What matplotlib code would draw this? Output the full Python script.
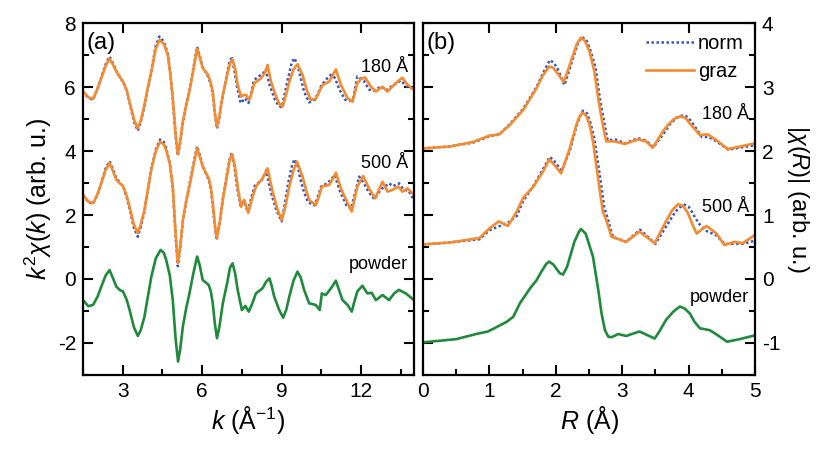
import numpy as np
import matplotlib
matplotlib.use("Agg")
import matplotlib.pyplot as plt
from matplotlib.ticker import MultipleLocator

plt.rcParams["font.family"] = ["Liberation Sans", "DejaVu Sans"]
plt.rcParams["mathtext.fontset"] = "custom"
plt.rcParams["mathtext.rm"] = "Liberation Sans"
plt.rcParams["mathtext.it"] = "Liberation Sans:italic"
plt.rcParams["axes.unicode_minus"] = False

# (k, k^2 chi) pairs
graz180 = [(1.5, 5.86), (1.7, 5.68), (1.88, 5.63), (2.05, 5.95), (2.19, 6.27), (2.35, 6.65), (2.5, 6.88),
           (2.62, 6.72), (2.76, 6.48), (2.9, 6.3), (3.01, 6.17), (3.15, 5.9), (3.26, 5.54), (3.42, 5.0),
           (3.57, 4.71), (3.68, 4.95), (3.82, 5.44), (3.95, 6.0), (4.08, 6.48), (4.25, 7.2), (4.39, 7.47),
           (4.55, 7.35), (4.7, 7.0), (4.8, 6.4), (4.89, 5.65), (5.0, 4.5), (5.08, 3.9), (5.17, 4.3),
           (5.27, 4.92), (5.4, 5.45), (5.52, 5.86), (5.66, 6.5), (5.81, 7.19), (5.9, 6.95), (6.02, 6.59),
           (6.21, 6.4), (6.3, 6.2), (6.4, 5.86), (6.48, 5.2), (6.56, 4.76), (6.65, 5.1), (6.78, 5.75),
           (6.95, 6.4), (7.08, 6.8), (7.15, 6.85), (7.25, 6.55), (7.34, 6.07), (7.47, 5.7), (7.56, 5.75),
           (7.66, 5.75), (7.78, 5.6), (7.88, 5.85), (7.97, 6.12), (8.22, 6.27), (8.38, 6.45), (8.47, 6.69),
           (8.6, 6.17), (8.79, 5.7), (8.93, 5.45), (9.04, 5.39), (9.15, 5.7), (9.29, 6.17), (9.45, 6.55),
           (9.6, 6.71), (9.79, 6.38), (9.95, 5.9), (10.1, 5.6), (10.29, 5.63), (10.42, 5.85), (10.55, 6.07),
           (10.8, 6.17), (10.95, 6.4), (11.05, 6.55), (11.24, 6.07), (11.49, 5.65), (11.68, 5.54),
           (11.86, 6.12), (12.0, 6.25), (12.15, 6.3), (12.37, 6.01), (12.56, 5.86), (12.81, 6.01),
           (13.0, 5.86), (13.25, 6.07), (13.45, 6.22), (13.56, 6.29), (13.75, 6.07), (14.0, 5.91)]
norm180 = [(1.5, 5.86), (1.7, 5.66), (1.88, 5.6), (2.05, 5.95), (2.19, 6.3), (2.35, 6.7), (2.5, 6.95),
           (2.62, 6.76), (2.76, 6.5), (2.9, 6.3), (3.01, 6.17), (3.15, 5.88), (3.26, 5.5), (3.42, 4.93),
           (3.57, 4.63), (3.68, 4.9), (3.82, 5.4), (3.95, 5.98), (4.08, 6.5), (4.25, 7.3), (4.39, 7.58),
           (4.55, 7.42), (4.7, 7.05), (4.8, 6.4), (4.89, 5.6), (5.0, 4.45), (5.08, 3.85), (5.17, 4.25),
           (5.27, 4.9), (5.4, 5.45), (5.52, 5.9), (5.66, 6.55), (5.81, 7.26), (5.9, 7.0), (6.02, 6.62),
           (6.21, 6.35), (6.3, 6.15), (6.4, 5.8), (6.48, 5.15), (6.56, 4.7), (6.65, 5.05), (6.78, 5.75),
           (6.95, 6.45), (7.05, 6.85), (7.13, 6.9), (7.22, 6.5), (7.32, 6.0), (7.45, 5.5), (7.55, 5.58),
           (7.62, 5.65), (7.75, 5.5), (7.85, 5.8), (7.95, 6.2), (8.12, 6.33), (8.28, 6.4), (8.4, 6.55),
           (8.55, 6.05), (8.75, 5.6), (8.88, 5.42), (9.0, 5.36), (9.12, 5.8), (9.25, 6.3), (9.38, 6.75),
           (9.48, 6.9), (9.6, 6.7), (9.7, 6.35), (9.85, 5.85), (10.04, 5.52), (10.25, 5.6), (10.38, 5.8),
           (10.5, 6.05), (10.7, 6.25), (10.86, 6.38), (11.0, 6.3), (11.2, 5.9), (11.4, 5.6), (11.55, 5.57),
           (11.7, 5.62), (11.86, 6.33), (12.1, 6.2), (12.3, 5.92), (12.5, 5.88), (12.75, 6.02), (12.95, 5.9),
           (13.2, 6.05), (13.5, 6.2), (13.75, 6.0), (14.0, 5.95)]
graz500 = [(1.5, 2.63), (1.7, 2.42), (1.88, 2.37), (2.05, 2.65), (2.19, 2.99), (2.35, 3.4), (2.5, 3.62),
           (2.62, 3.4), (2.76, 3.1), (2.9, 2.98), (3.01, 2.91), (3.15, 2.6), (3.26, 2.26), (3.42, 1.7),
           (3.57, 1.43), (3.68, 1.7), (3.82, 2.16), (3.95, 2.8), (4.08, 3.41), (4.25, 4.0), (4.41, 4.29),
           (4.55, 4.2), (4.64, 4.03), (4.78, 3.6), (4.89, 2.89), (5.0, 1.4), (5.08, 0.49), (5.17, 1.0),
           (5.27, 1.84), (5.4, 2.45), (5.52, 2.89), (5.66, 3.5), (5.81, 4.08), (5.9, 3.85), (6.02, 3.51),
           (6.15, 3.3), (6.25, 3.15), (6.33, 2.85), (6.4, 2.37), (6.48, 1.7), (6.55, 1.27), (6.65, 1.7),
           (6.78, 2.47), (6.95, 3.3), (7.05, 3.75), (7.13, 3.9), (7.24, 3.5), (7.34, 2.89), (7.47, 2.26),
           (7.59, 2.47), (7.74, 2.07), (7.88, 2.5), (8.03, 2.89), (8.28, 3.15), (8.38, 3.3), (8.47, 3.46),
           (8.56, 3.1), (8.66, 2.73), (8.85, 2.16), (9.01, 1.84), (9.15, 2.3), (9.29, 2.89), (9.45, 3.4),
           (9.58, 3.67), (9.79, 3.2), (9.92, 2.8), (10.04, 2.47), (10.29, 2.31), (10.4, 2.55), (10.52, 2.89),
           (10.8, 2.94), (10.95, 3.15), (11.05, 3.32), (11.24, 2.83), (11.49, 2.37), (11.65, 2.11),
           (11.86, 2.89), (12.08, 3.22), (12.3, 2.83), (12.53, 2.52), (12.81, 3.04), (13.0, 2.73),
           (13.18, 2.78), (13.41, 2.89), (13.56, 2.73), (13.75, 2.83), (14.0, 2.63)]
norm500 = [(1.5, 2.63), (1.7, 2.4), (1.88, 2.35), (2.05, 2.65), (2.19, 3.0), (2.35, 3.45), (2.5, 3.68),
           (2.62, 3.45), (2.76, 3.15), (2.9, 3.0), (3.01, 2.9), (3.15, 2.55), (3.26, 2.2), (3.42, 1.6),
           (3.57, 1.32), (3.68, 1.62), (3.82, 2.1), (3.95, 2.8), (4.08, 3.45), (4.25, 4.05), (4.41, 4.36),
           (4.55, 4.28), (4.64, 4.1), (4.78, 3.6), (4.89, 2.85), (5.0, 1.3), (5.08, 0.4), (5.17, 0.95),
           (5.27, 1.8), (5.4, 2.45), (5.52, 2.95), (5.66, 3.55), (5.81, 4.15), (5.9, 3.9), (6.02, 3.55),
           (6.15, 3.28), (6.25, 3.1), (6.33, 2.8), (6.4, 2.3), (6.48, 1.65), (6.55, 1.22), (6.65, 1.7),
           (6.78, 2.5), (6.95, 3.35), (7.05, 3.8), (7.12, 3.95), (7.22, 3.5), (7.32, 2.85), (7.45, 2.3),
           (7.58, 2.45), (7.72, 2.1), (7.86, 2.55), (8.0, 2.95), (8.22, 3.05), (8.32, 3.2), (8.42, 3.4),
           (8.5, 3.05), (8.6, 2.7), (8.8, 2.15), (9.0, 1.8), (9.12, 2.35), (9.25, 3.0), (9.38, 3.5),
           (9.48, 3.74), (9.6, 3.55), (9.7, 3.15), (9.85, 2.7), (10.0, 2.4), (10.25, 2.3), (10.38, 2.6),
           (10.5, 2.9), (10.75, 3.0), (10.9, 3.15), (11.0, 3.25), (11.2, 2.75), (11.45, 2.3), (11.62, 2.2),
           (11.78, 2.7), (11.93, 3.2), (12.1, 3.0), (12.3, 2.7), (12.5, 2.5), (12.75, 2.8), (13.06, 2.99),
           (13.2, 2.9), (13.43, 2.99), (13.6, 2.8), (13.8, 2.75), (14.0, 2.47)]
powder_k = [(1.5, -0.66), (1.7, -0.85), (1.88, -0.81), (2.05, -0.55), (2.19, -0.24), (2.35, 0.1), (2.5, 0.28),
            (2.62, 0.05), (2.76, -0.24), (2.9, -0.35), (3.01, -0.39), (3.15, -0.65), (3.26, -0.97),
            (3.42, -1.5), (3.57, -1.78), (3.68, -1.6), (3.82, -1.18), (3.95, -0.55), (4.08, 0.07),
            (4.25, 0.65), (4.43, 0.91), (4.55, 0.82), (4.64, 0.6), (4.78, 0.1), (4.89, -0.66), (5.0, -1.9),
            (5.09, -2.58), (5.17, -2.2), (5.27, -1.49), (5.4, -0.9), (5.52, -0.45), (5.66, 0.15), (5.81, 0.7),
            (5.9, 0.45), (6.02, -0.03), (6.15, -0.12), (6.25, -0.19), (6.33, -0.4), (6.4, -0.76), (6.48, -1.4),
            (6.56, -1.85), (6.65, -1.5), (6.78, -0.76), (6.95, -0.1), (7.05, 0.35), (7.15, 0.49), (7.25, 0.15),
            (7.34, -0.34), (7.5, -0.97), (7.63, -0.84), (7.76, -1.02), (7.9, -0.75), (8.03, -0.45),
            (8.28, -0.29), (8.42, -0.08), (8.54, 0.02), (8.62, -0.2), (8.72, -0.55), (8.91, -0.97),
            (9.06, -1.21), (9.18, -0.95), (9.29, -0.55), (9.45, -0.05), (9.6, 0.23), (9.72, 0.05),
            (9.85, -0.34), (10.04, -0.76), (10.29, -0.81), (10.44, -0.97), (10.52, -0.45), (10.67, -0.5),
            (10.9, -0.25), (11.05, -0.05), (11.15, -0.3), (11.3, -0.66), (11.49, -0.81), (11.65, -1.02),
            (11.75, -0.7), (11.86, -0.39), (12.05, -0.21), (12.24, -0.45), (12.4, -0.43), (12.56, -0.66),
            (12.81, -0.5), (13.06, -0.66), (13.25, -0.45), (13.43, -0.34), (13.69, -0.45), (14.0, -0.66)]

# (R, |chi(R)|) pairs
graz180_R = [(0, 2.04), (0.4, 2.07), (0.75, 2.14), (1.0, 2.24), (1.15, 2.26), (1.31, 2.41), (1.51, 2.64),
             (1.71, 2.98), (1.8, 3.17), (1.9, 3.32), (1.96, 3.3), (2.03, 3.21), (2.12, 3.08), (2.19, 3.28),
             (2.26, 3.5), (2.32, 3.68), (2.38, 3.77), (2.44, 3.72), (2.51, 3.55), (2.58, 3.25), (2.64, 2.82),
             (2.7, 2.45), (2.76, 2.15), (2.89, 2.15), (3.04, 2.11), (3.24, 2.18), (3.36, 2.15), (3.46, 2.05),
             (3.61, 2.3), (3.7, 2.42), (3.78, 2.5), (3.87, 2.54), (3.95, 2.52), (4.02, 2.43), (4.17, 2.25),
             (4.29, 2.26), (4.42, 2.17), (4.59, 2.03), (4.82, 2.08), (5.0, 2.12)]
norm180_R = [(0, 2.04), (0.4, 2.07), (0.75, 2.13), (1.0, 2.23), (1.15, 2.26), (1.31, 2.42), (1.51, 2.66),
             (1.71, 3.0), (1.81, 3.22), (1.91, 3.42), (1.97, 3.38), (2.03, 3.28), (2.13, 3.03), (2.2, 3.25),
             (2.26, 3.45), (2.33, 3.67), (2.39, 3.78), (2.46, 3.74), (2.52, 3.58), (2.6, 3.3), (2.66, 2.85),
             (2.72, 2.5), (2.78, 2.17), (2.9, 2.18), (3.04, 2.12), (3.24, 2.2), (3.36, 2.16), (3.47, 2.06),
             (3.63, 2.28), (3.72, 2.42), (3.82, 2.52), (3.92, 2.56), (3.99, 2.53), (4.05, 2.45), (4.2, 2.22),
             (4.3, 2.22), (4.42, 2.15), (4.6, 2.02), (4.82, 2.06), (5.0, 2.09)]
graz500_R = [(0, 0.54), (0.4, 0.57), (0.85, 0.64), (1.0, 0.79), (1.14, 0.9), (1.28, 0.83), (1.41, 1.05),
             (1.51, 1.27), (1.66, 1.44), (1.81, 1.68), (1.9, 1.87), (1.98, 1.78), (2.08, 1.65), (2.21, 2.04),
             (2.31, 2.41), (2.35, 2.52), (2.4, 2.6), (2.46, 2.55), (2.51, 2.41), (2.56, 2.15), (2.61, 1.78),
             (2.66, 1.4), (2.71, 1.05), (2.76, 0.92), (2.84, 0.66), (3.06, 0.58), (3.26, 0.74), (3.49, 0.56),
             (3.66, 0.9), (3.75, 1.07), (3.84, 1.17), (3.92, 1.14), (3.99, 1.03), (4.06, 0.85), (4.12, 0.71),
             (4.27, 0.83), (4.42, 0.71), (4.54, 0.53), (4.69, 0.58), (4.82, 0.56), (5.0, 0.69)]
norm500_R = [(0, 0.54), (0.4, 0.57), (0.85, 0.62), (1.0, 0.76), (1.14, 0.82), (1.28, 0.88), (1.41, 0.98),
             (1.51, 1.22), (1.66, 1.45), (1.81, 1.72), (1.91, 1.91), (1.98, 1.84), (2.09, 1.69), (2.21, 2.0),
             (2.31, 2.38), (2.36, 2.53), (2.41, 2.63), (2.47, 2.59), (2.52, 2.45), (2.58, 2.2), (2.63, 1.85),
             (2.68, 1.5), (2.73, 1.12), (2.78, 0.95), (2.86, 0.66), (3.06, 0.58), (3.27, 0.77), (3.5, 0.55),
             (3.68, 0.85), (3.8, 1.05), (3.87, 1.12), (3.94, 1.16), (4.0, 1.13), (4.05, 1.05), (4.15, 0.87),
             (4.27, 0.75), (4.42, 0.68), (4.54, 0.55), (4.69, 0.55), (4.82, 0.55), (5.0, 0.6)]
powder_R = [(0, -0.99), (0.5, -0.94), (0.8, -0.86), (0.98, -0.82), (1.26, -0.67), (1.36, -0.59), (1.46, -0.38),
            (1.61, -0.15), (1.71, -0.02), (1.78, 0.11), (1.86, 0.24), (1.9, 0.27), (1.96, 0.23), (2.06, 0.09),
            (2.11, 0.07), (2.17, 0.19), (2.28, 0.58), (2.35, 0.74), (2.38, 0.78), (2.45, 0.71), (2.56, 0.35),
            (2.64, -0.17), (2.69, -0.54), (2.74, -0.8), (2.79, -0.9), (2.84, -0.91), (2.94, -0.86),
            (3.06, -0.89), (3.26, -0.82), (3.49, -0.93), (3.56, -0.82), (3.66, -0.64), (3.77, -0.51),
            (3.87, -0.43), (3.94, -0.46), (4.02, -0.54), (4.09, -0.67), (4.17, -0.77), (4.32, -0.8),
            (4.44, -0.88), (4.58, -0.98), (4.77, -0.94), (5.0, -0.88)]

c_norm, c_graz, c_powder = "#3555c4", "#f58a2e", "#1f8a3b"
dots = (0, (1, 1))


def draw(ax, pts, **kw):
    a = np.array(pts)
    return ax.plot(a[:, 0], a[:, 1], solid_joinstyle="round", **kw)


fig = plt.figure(figsize=(8.3, 4.53), dpi=100)
ax1 = fig.add_axes([0.1, 0.1722, 0.3988, 0.777])
ax2 = fig.add_axes([0.5096, 0.1722, 0.4, 0.777])

draw(ax1, norm180, color=c_norm, lw=1.8, ls=dots)
draw(ax1, graz180, color=c_graz, lw=1.9)
draw(ax1, norm500, color=c_norm, lw=1.8, ls=dots)
draw(ax1, graz500, color=c_graz, lw=1.9)
draw(ax1, powder_k, color=c_powder, lw=1.9)

draw(ax2, norm180_R, color=c_norm, lw=1.8, ls=dots, label="norm")
draw(ax2, graz180_R, color=c_graz, lw=1.9, label="graz")
draw(ax2, norm500_R, color=c_norm, lw=1.8, ls=dots)
draw(ax2, graz500_R, color=c_graz, lw=1.9)
draw(ax2, powder_R, color=c_powder, lw=1.9)

ax1.set_xlim(1.5, 14)
ax1.set_ylim(-3, 8)
ax1.set_xticks([3, 6, 9, 12])
ax1.xaxis.set_minor_locator(MultipleLocator(1.5))
ax1.set_yticks([-2, 0, 2, 4, 6, 8])
ax1.yaxis.set_minor_locator(MultipleLocator(1))
ax1.set_xlabel(r"$k$ (Å$^{\mathregular{-1}}$)", fontsize=18, labelpad=2)
ax1.set_ylabel(r"$k^{\mathregular{2}}\chi(k)$ (arb. u.)", fontsize=18, labelpad=3)

ax2.set_xlim(0, 5)
ax2.set_ylim(-1.5, 4)
ax2.set_xticks([0, 1, 2, 3, 4, 5])
ax2.xaxis.set_minor_locator(MultipleLocator(0.5))
ax2.set_yticks([-1, 0, 1, 2, 3, 4])
ax2.yaxis.set_minor_locator(MultipleLocator(0.5))
ax2.set_xlabel(r"$R$ (Å)", fontsize=18, labelpad=2)
ax2.yaxis.set_label_position("right")
ax2.set_ylabel(r"|$\chi$($R$)| (arb. u.)", fontsize=17, rotation=270, labelpad=22)

for ax in (ax1, ax2):
    for s in ax.spines.values():
        s.set_linewidth(1.6)
    ax.tick_params(which="both", direction="in", top=True, right=True, labelsize=15, width=1.5)
    ax.tick_params(which="major", length=7.5, pad=5)
    ax.tick_params(which="minor", length=4, top=False)
ax2.tick_params(which="both", labelleft=False, labelright=True)

ax1.text(0.012, 0.975, "(a)", transform=ax1.transAxes, fontsize=17, ha="left", va="top")
ax2.text(0.012, 0.975, "(b)", transform=ax2.transAxes, fontsize=17, ha="left", va="top")

for ax, labels in ((ax1, [(0.875, "180 Å"), (0.6, "500 Å"), (0.314, "powder")]),
                   (ax2, [(0.74, "180 Å"), (0.476, "500 Å"), (0.22, "powder")])):
    for y, t in labels:
        ax.text(0.983, y, t, transform=ax.transAxes, fontsize=13, ha="right", va="center")

ax2.legend(loc="upper right", frameon=False, fontsize=14.5, handlelength=2.4, handletextpad=0.2,
           labelspacing=0.45, borderaxespad=0.35, borderpad=0.2)

fig.savefig("out.png", dpi=100)
